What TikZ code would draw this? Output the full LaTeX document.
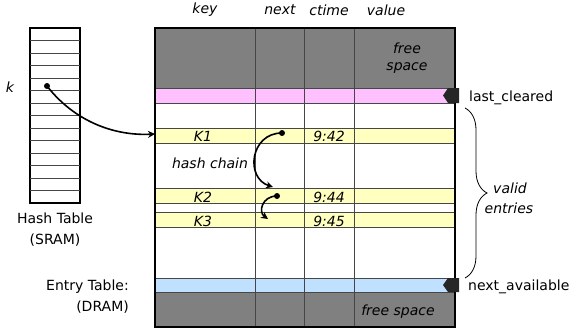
\documentclass[tikz,border=0pt]{standalone}
\usepackage{fontspec}
\setmainfont{DejaVu Sans}
\usetikzlibrary{arrows.meta,decorations.pathreplacing}
\definecolor{grayfill}{RGB}{128,128,128}
\definecolor{pinkfill}{RGB}{255,192,255}
\definecolor{yelfill}{RGB}{255,255,192}
\definecolor{bluefill}{RGB}{192,224,255}
\definecolor{lineg}{RGB}{70,70,70}
\begin{document}
\begin{tikzpicture}[x=1pt,y=-1pt,font=\fontsize{14}{16}\selectfont,
  lbl/.style={inner sep=0pt},
  itl/.style={inner sep=0pt,font=\fontsize{14}{16}\selectfont\itshape},
  colline/.style={draw=lineg,line width=0.8pt},
  bandline/.style={draw=lineg,line width=0.8pt},
  dotnode/.style={circle,fill=black,inner sep=0pt,minimum size=6pt},
  chain/.style={line width=1.6pt,-{Stealth[length=7pt,width=7pt]}},
  marker/.style={fill=black!85}]
\useasboundingbox (0,0) rectangle (573,333);
% entry table fills
\fill[grayfill] (155,28) rectangle (455,88);
\fill[pinkfill] (155,88) rectangle (455,103);
\fill[yelfill] (155,128) rectangle (455,143);
\fill[yelfill] (155,188) rectangle (455,203);
\fill[yelfill] (155,212) rectangle (455,227);
\fill[bluefill] (155,278) rectangle (455,292);
\fill[grayfill] (155,292) rectangle (455,327);
% band borders
\foreach \y in {88,103,128,143,188,203,212,227,278,292}
  \draw[bandline] (155,\y) -- (455,\y);
% columns
\foreach \x in {255,304,354}
  \draw[colline] (\x,28) -- (\x,327);
\draw[line width=2.2pt] (155,28) rectangle (455,327);
% headers
\node[itl] (hkey) at (205,10) {key};
\node[itl] (hnext) at (280,10) {next};
\node[itl] (hctime) at (329,10) {ctime};
\node[itl] (hvalue) at (386,10) {value};
\node[itl] (fs1) at (407,48) {free};
\node[itl] (fs2) at (407,68) {space};
\node[itl] (fs3) at (398,312) {free space};
% row labels
\node[itl] (k1) at (203,136) {K1};
\node[itl] (t1) at (329,136) {9:42};
\node[itl] (k2) at (203,197) {K2};
\node[itl] (t2) at (329,197) {9:44};
\node[itl] (k3) at (203,221) {K3};
\node[itl] (t3) at (329,221) {9:45};
\node[itl] (hc) at (210,163) {hash chain};
% hash table
\draw[line width=2pt] (30,28) rectangle (80,203);
\foreach \i in {1,...,13}
  \draw[lineg,line width=0.6pt] (30,28+12.5*\i) -- (80,28+12.5*\i);
\node[itl] (kk) at (10,87) {k};
\node[lbl] (ht1) at (55,218) {Hash Table};
\node[lbl] (ht2) at (55,240) {(SRAM)};
\node[lbl,anchor=east] (et1) at (129,287) {Entry Table:};
\node[lbl,anchor=east] (et2) at (129,307) {(DRAM)};
% arrows
\node[dotnode] (d0) at (47,86) {};
\coordinate (k1in) at (155,134);
\draw[chain] (d0.center) .. controls (75,122) and (115,136) .. (k1in);
\node[dotnode] (d1) at (282,133) {};
\coordinate (k2in) at (273,187);
\draw[chain] (d1.center) .. controls (250,133) and (245,178) .. (k2in);
\node[dotnode] (d2) at (277,196) {};
\coordinate (k3in) at (268,219);
\draw[chain] (d2.center) .. controls (262,196) and (258,212) .. (k3in);
% markers
\fill[marker] (443,95.5) -- (448,88) -- (459,88) -- (459,103) -- (448,103) -- cycle;
\fill[marker] (443,285) -- (448,278) -- (459,278) -- (459,292) -- (448,292) -- cycle;
\node[lbl,anchor=west] (lc) at (469,98) {last\_cleared};
\node[lbl,anchor=west] (na) at (468,287) {next\_available};
% brace
\draw[line width=0.8pt,decorate,decoration={brace,amplitude=22pt}] (465,108) -- (465,278);
\node[itl] (v1) at (510,188) {valid};
\node[itl] (v2) at (509,208) {entries};
\end{tikzpicture}
\end{document}
